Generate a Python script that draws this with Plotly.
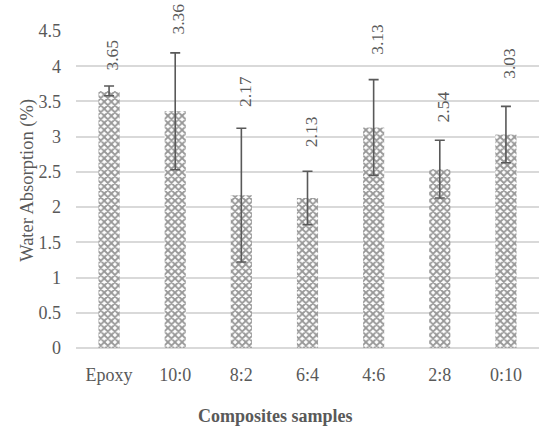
import plotly.graph_objects as go

categories = ["Epoxy", "10:0", "8:2", "6:4", "4:6", "2:8", "0:10"]
absorption = [3.65, 3.36, 2.17, 2.13, 3.13, 2.54, 3.03]
errors = [0.07, 0.83, 0.95, 0.38, 0.68, 0.41, 0.40]
y_ticks = [0, 0.5, 1, 1.5, 2, 2.5, 3, 3.5, 4, 4.5]

label_gap_px = [13, 16, 19, 22, 23, 16, 26]

font_family = "Liberation Serif, Times New Roman, serif"
grey = "#595959"

fig = go.Figure()
fig.add_trace(go.Bar(
    x=categories,
    y=absorption,
    width=0.32,
    marker=dict(
        color="white",
        line=dict(width=0),
        pattern=dict(shape="x", fgcolor="#303030", bgcolor="white", size=5, solidity=0.6),
    ),
    error_y=dict(type="data", array=errors, visible=True, color=grey, thickness=1.6, width=5),
    hoverinfo="skip",
))

annotations = []
for i, (c, v, e) in enumerate(zip(categories, absorption, errors)):
    annotations.append(dict(
        x=c, y=v + e, xref="x", yref="y",
        text=f"{v:.2f}", textangle=-90, showarrow=False,
        xanchor="center", yanchor="bottom",
        xshift=3, yshift=label_gap_px[i],
        font=dict(family=font_family, size=17.5, color=grey),
    ))

annotations.append(dict(
    text="Water Absorption (%)", textangle=-90, showarrow=False,
    xref="paper", yref="paper", x=-0.104, y=0.53, xanchor="center", yanchor="middle",
    font=dict(family=font_family, size=18.5, color=grey),
))
annotations.append(dict(
    text="<b>Composites samples</b>", showarrow=False,
    xref="paper", yref="paper", x=0.43, y=-0.215, xanchor="center", yanchor="middle",
    font=dict(family=font_family, size=18, color=grey),
))

fig.update_layout(
    width=539, height=427,
    margin=dict(l=76, r=0, t=31, b=79),
    paper_bgcolor="white", plot_bgcolor="white",
    showlegend=False,
    bargap=0.68,
    annotations=annotations,
    font=dict(family=font_family, size=18, color=grey),
    xaxis=dict(
        showgrid=False, showline=False, zeroline=False,
        ticks="", ticklabelstandoff=14,
        tickfont=dict(family=font_family, size=18, color=grey),
    ),
    yaxis=dict(
        range=[0, 4.5], tickvals=y_ticks,
        ticktext=[f"{t:g}" for t in y_ticks],
        showgrid=True, gridcolor="#d9d9d9", gridwidth=1.5,
        zeroline=True, zerolinecolor="#d9d9d9", zerolinewidth=1.5,
        showline=False, ticks="", ticklabelstandoff=14,
        tickfont=dict(family=font_family, size=18, color=grey),
    ),
)

fig.write_html(
    "out.html",
    config={"displayModeBar": False},
    post_script="document.body.style.margin='0';document.body.style.overflow='hidden';",
)
